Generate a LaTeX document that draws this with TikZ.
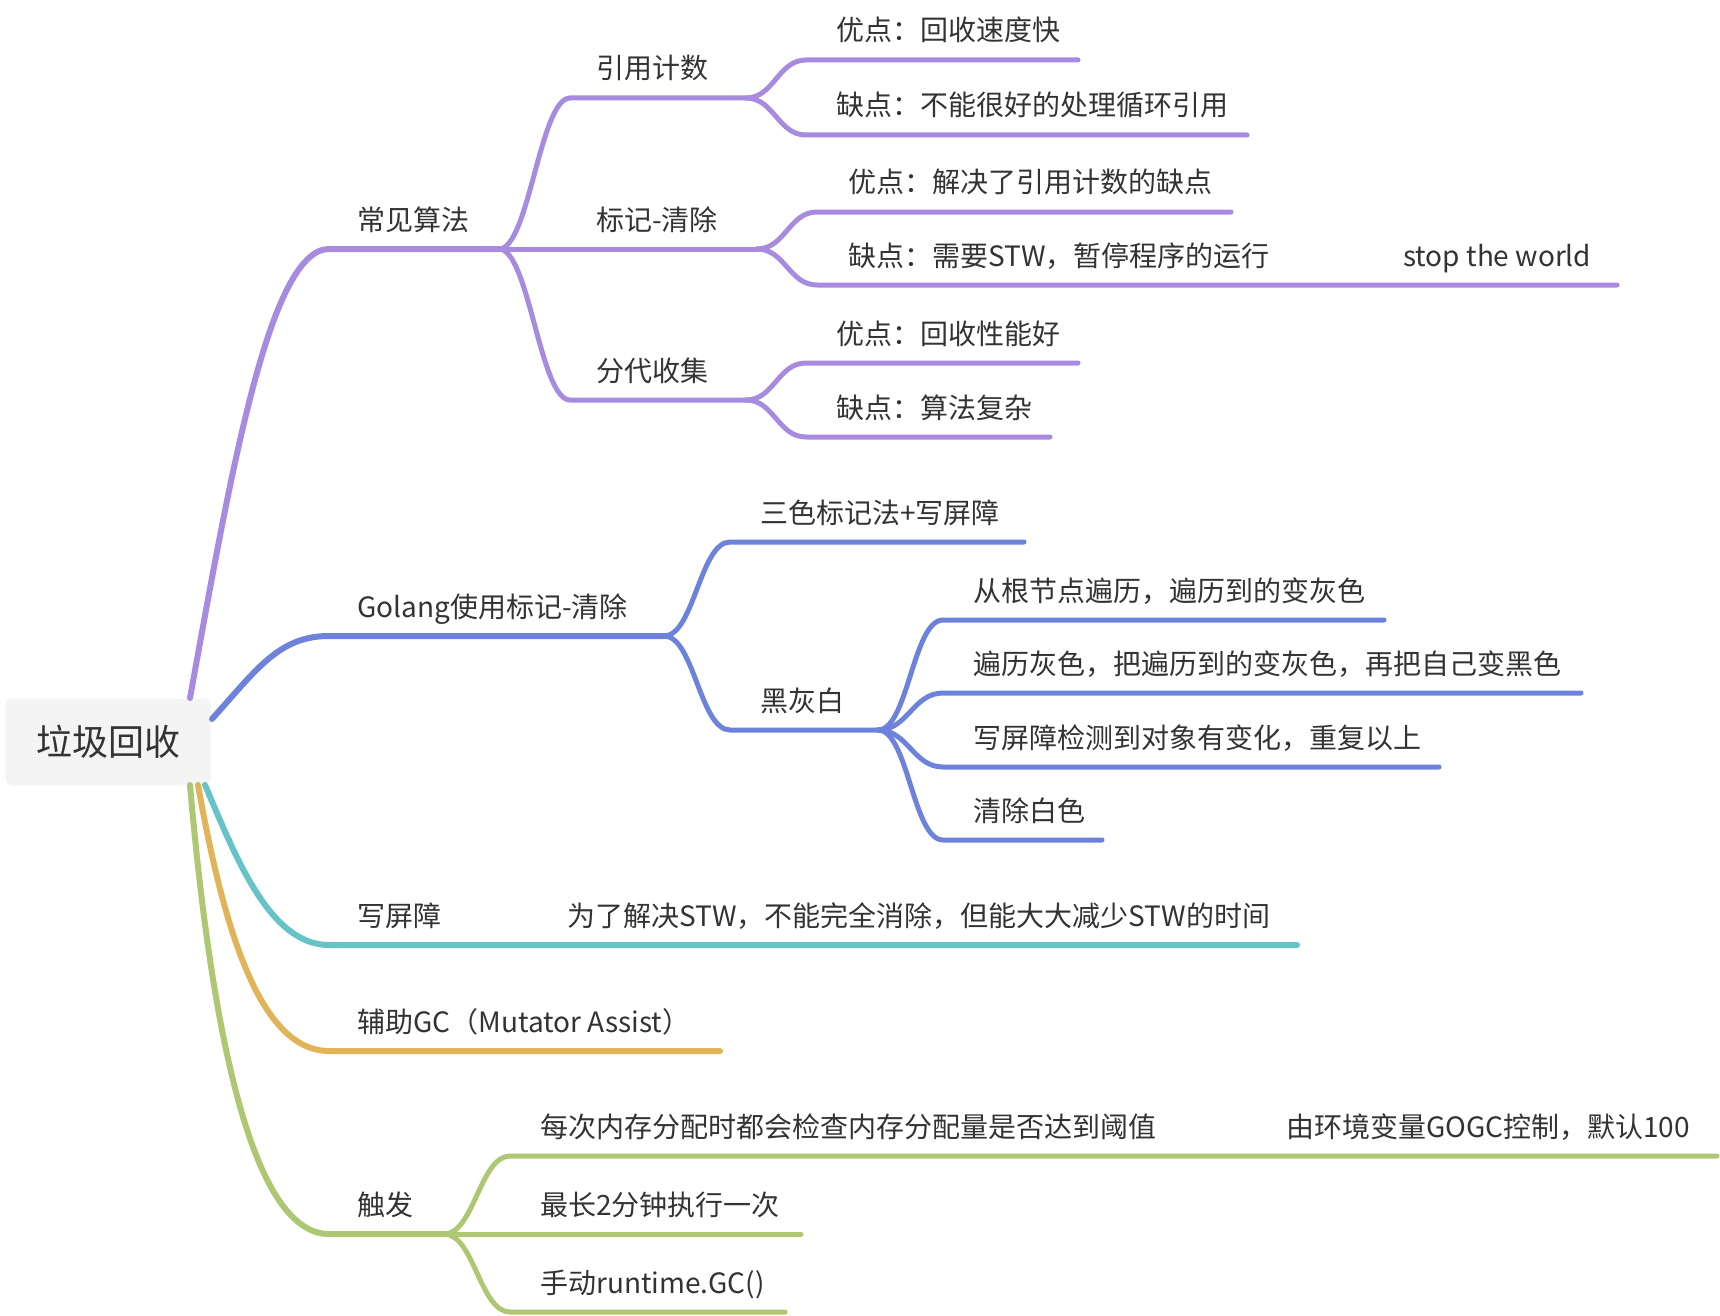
\documentclass[tikz,border=0pt]{standalone}
\usepackage{fontspec}
\setmainfont{Noto Sans CJK SC}
\usetikzlibrary{positioning}
\definecolor{gcPurple}{HTML}{A68BE0}
\definecolor{gcBlue}{HTML}{6D83DB}
\definecolor{gcTeal}{HTML}{66C3C7}
\definecolor{gcOrange}{HTML}{E1B45A}
\definecolor{gcGreen}{HTML}{AEC772}
\definecolor{gcText}{HTML}{333333}
\definecolor{gcRoot}{HTML}{F4F4F4}

\begin{document}
\begin{tikzpicture}[x=1pt,y=-1pt,line cap=round,
topic/.style={anchor=base west,inner sep=0pt,text=gcText,font=\fontsize{28}{34}\selectfont},
root/.style={rectangle,rounded corners=7pt,fill=gcRoot,minimum width=205pt,minimum height=87pt,text=gcText,font=\fontsize{36}{42}\selectfont},
branch/.style={line width=6pt},
limb/.style={line width=5pt},
twig/.style={to path={.. controls +(#1,0) and +(-#1,0) .. (\tikztotarget)}},
twig/.default=32]

\useasboundingbox (0,0) rectangle (1720,1316);

%Root
\node[root] (gc) at (108,742) {垃圾回收};

%Points on the lines
\coordinate (r1) at (190,698);
\coordinate (r2) at (212,719);
\coordinate (r3) at (205,785);
\coordinate (r4) at (198,785);
\coordinate (r5) at (190,785);

\coordinate (a1) at (329,249);  \coordinate (j1) at (499,249);
\coordinate (b1) at (570,98);   \coordinate (j2) at (746,98);
\coordinate (j3) at (757,249);
\coordinate (b3) at (570,400);  \coordinate (j4) at (746,400);
\coordinate (c1) at (806,60);   \coordinate (c1e) at (1078,60);
\coordinate (c2) at (806,135);  \coordinate (c2e) at (1247,135);
\coordinate (c3) at (817,212);  \coordinate (c3e) at (1231,212);
\coordinate (c4) at (817,285);  \coordinate (c4e) at (1617,285);
\coordinate (c5) at (806,363);  \coordinate (c5e) at (1078,363);
\coordinate (c6) at (806,437);  \coordinate (c6e) at (1050,437);

\coordinate (a2) at (329,636);  \coordinate (j5) at (664,636);
\coordinate (d1) at (730,542);  \coordinate (d1e) at (1024,542);
\coordinate (d2) at (730,730);  \coordinate (j6) at (878,730);
\coordinate (e1) at (943,620);  \coordinate (e1e) at (1384,620);
\coordinate (e2) at (943,693);  \coordinate (e2e) at (1581,693);
\coordinate (e3) at (943,767);  \coordinate (e3e) at (1439,767);
\coordinate (e4) at (943,840);  \coordinate (e4e) at (1102,840);

\coordinate (a3) at (329,945);  \coordinate (a3e) at (1297,945);
\coordinate (a4) at (329,1051); \coordinate (a4e) at (720,1051);

\coordinate (a5) at (329,1234); \coordinate (j7) at (444,1234);
\coordinate (f2e) at (801,1234);
\coordinate (f1) at (510,1156); \coordinate (f1e) at (1717,1156);
\coordinate (f3) at (510,1312); \coordinate (f3e) at (785,1312);

%Common algorithms
\draw[branch,gcPurple] (r1) .. controls +(40,-220) and +(-60,0) .. (a1) -- (j1);
\draw[limb,gcPurple] (j1) to[twig=30] (b1) -- (j2);
\draw[limb,gcPurple] (j1) -- (j3);
\draw[limb,gcPurple] (j1) to[twig=30] (b3) -- (j4);
\draw[limb,gcPurple] (j2) to[twig=28] (c1) -- (c1e);
\draw[limb,gcPurple] (j2) to[twig=28] (c2) -- (c2e);
\draw[limb,gcPurple] (j3) to[twig=28] (c3) -- (c3e);
\draw[limb,gcPurple] (j3) to[twig=28] (c4) -- (c4e);
\draw[limb,gcPurple] (j4) to[twig=28] (c5) -- (c5e);
\draw[limb,gcPurple] (j4) to[twig=28] (c6) -- (c6e);

\node[topic] (algo) at (357,230) {常见算法};
\node[topic] (refcnt) at (596,79) {引用计数};
\node[topic] (marksw) at (596,230) {标记-清除};
\node[topic] (gener) at (596,381) {分代收集};
\node[topic] (refpro) at (836,41) {优点：回收速度快};
\node[topic] (refcon) at (836,116) {缺点：不能很好的处理循环引用};
\node[topic] (mspro) at (848,193) {优点：解决了引用计数的缺点};
\node[topic] (mscon) at (848,266) {缺点：需要STW，暂停程序的运行};
\node[topic] (stw) at (1403,266) {stop the world};
\node[topic] (genpro) at (836,344) {优点：回收性能好};
\node[topic] (gencon) at (836,418) {缺点：算法复杂};

%Golang
\draw[branch,gcBlue] (r2) .. controls +(45,-50) and +(-50,0) .. (a2) -- (j5);
\draw[limb,gcBlue] (j5) to[twig=30] (d1) -- (d1e);
\draw[limb,gcBlue] (j5) to[twig=30] (d2) -- (j6);
\draw[limb,gcBlue] (j6) to[twig=30] (e1) -- (e1e);
\draw[limb,gcBlue] (j6) to[twig=30] (e2) -- (e2e);
\draw[limb,gcBlue] (j6) to[twig=30] (e3) -- (e3e);
\draw[limb,gcBlue] (j6) to[twig=30] (e4) -- (e4e);

\node[topic] (golang) at (357,617) {Golang使用标记-清除};
\node[topic] (tricol) at (760,523) {三色标记法+写屏障};
\node[topic] (bgw) at (760,711) {黑灰白};
\node[topic] (step1) at (973,601) {从根节点遍历，遍历到的变灰色};
\node[topic] (step2) at (973,674) {遍历灰色，把遍历到的变灰色，再把自己变黑色};
\node[topic] (step3) at (973,748) {写屏障检测到对象有变化，重复以上};
\node[topic] (step4) at (973,821) {清除白色};

%Write barrier
\draw[branch,gcTeal] (r3) .. controls +(30,70) and +(-60,0) .. (a3) -- (a3e);
\node[topic] (wb) at (357,926) {写屏障};
\node[topic] (wbnote) at (567,926) {为了解决STW，不能完全消除，但能大大减少STW的时间};

%Mutator assist
\draw[branch,gcOrange] (r4) .. controls +(25,140) and +(-70,0) .. (a4) -- (a4e);
\node[topic] (assist) at (357,1032) {辅助GC（Mutator Assist）};

%Trigger
\draw[branch,gcGreen] (r5) .. controls +(20,230) and +(-80,0) .. (a5) -- (j7);
\draw[limb,gcGreen] (j7) -- (f2e);
\draw[limb,gcGreen] (j7) to[twig=30] (f1) -- (f1e);
\draw[limb,gcGreen] (j7) to[twig=30] (f3) -- (f3e);

\node[topic] (trig) at (357,1215) {触发};
\node[topic] (alloc) at (540,1137) {每次内存分配时都会检查内存分配量是否达到阈值};
\node[topic] (gogc) at (1286,1137) {由环境变量GOGC控制，默认100};
\node[topic] (twomin) at (540,1215) {最长2分钟执行一次};
\node[topic] (manual) at (540,1293) {手动runtime.GC()};
\end{tikzpicture}
\end{document}
